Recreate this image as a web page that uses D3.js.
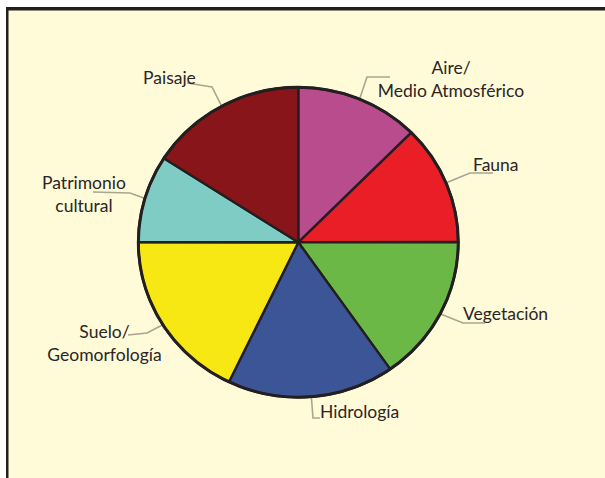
<!DOCTYPE html>
<html>
<head>
<meta charset="utf-8">
<script src="https://cdn.jsdelivr.net/npm/d3@7"></script>
<style>
  body { margin: 0; background: #fff; }
  svg { display: block; }
  .label { font-family: Lato, "Liberation Sans", sans-serif; font-size: 17.5px; font-weight: 400; fill: #2a2526; }
</style>
</head>
<body>
<div id="chart"></div>
<script>
// Categories, clockwise from 12 o'clock
const categories = [
    "Aire/ Medio Atmosférico",
    "Fauna",
    "Vegetación",
    "Hidrología",
    "Suelo/ Geomorfología",
    "Patrimonio cultural",
    "Paisaje"
];

// Share of each slice (%)
const shares = [12.5, 12.5, 15.3, 16.9, 17.9, 9.1, 15.9];

const colors = ["#b94c8d", "#e91e26", "#6bb846", "#3b5597", "#f7e813", "#7fccc4", "#871519"];

// Label lines (text rows) for each category
const labelLines = [
    ["Aire/", "Medio Atmosférico"],
    ["Fauna"],
    ["Vegetación"],
    ["Hidrología"],
    ["Suelo/", "Geomorfología"],
    ["Patrimonio", "cultural"],
    ["Paisaje"]
];

const width = 605;
const height = 478;
const cx = 298.3, cy = 242.3;
const radius = 155;
const xStretch = 1.032;   // pie is slightly wider than tall in the original

// Label layout: text anchor/position and leader bend/end points
const labelLayout = [
    { x: 451, y: 74, anchor: "middle", lead: [[367, 77], [390, 77]] },
    { x: 473, y: 171, anchor: "start", lead: [[470, 173], [493, 173]] },
    { x: 463, y: 320, anchor: "start", lead: [[463, 323], [485, 323]] },
    { x: 320, y: 418, anchor: "start", lead: [[313, 418], [320, 418]] },
    { x: 104.5, y: 338, anchor: "middle", lead: [[147, 333], [128, 335]] },
    { x: 84, y: 189, anchor: "middle", lead: [[130, 193], [93, 192]] },
    { x: 143, y: 84, anchor: "start", lead: [[212, 87], [187, 83]] }
];

const data = categories.map((c, i) => ({ name: c, value: shares[i], color: colors[i], lines: labelLines[i], layout: labelLayout[i] }));

const svg = d3.select("#chart")
    .append("svg")
    .attr("width", width)
    .attr("height", height);

// Cream panel with dark frame at top and left
svg.append("rect")
    .attr("x", 7).attr("y", 9)
    .attr("width", width - 7).attr("height", height - 9)
    .attr("fill", "#fffad8");
svg.append("rect")
    .attr("x", 6).attr("y", 7)
    .attr("width", width - 6).attr("height", 3.5)
    .attr("fill", "#231f20");
svg.append("rect")
    .attr("x", 6).attr("y", 7)
    .attr("width", 2.5).attr("height", height - 7)
    .attr("fill", "#231f20");

const pie = d3.pie().sort(null).value(d => d.value);
const arcs = pie(data);

const arc = d3.arc().innerRadius(0).outerRadius(radius);

// Leader lines (drawn first, under the pie)
const leader = d3.line().curve(d3.curveLinear);
svg.append("g")
    .selectAll("path")
    .data(arcs)
    .join("path")
    .attr("d", d => {
        const mid = (d.startAngle + d.endAngle) / 2;
        const r = radius + 1;
        const start = [cx + Math.sin(mid) * r * xStretch, cy - Math.cos(mid) * r];
        return leader([start, ...d.data.layout.lead]);
    })
    .attr("fill", "none")
    .attr("stroke", "#a8a690")
    .attr("stroke-width", 1.6);

const pieG = svg.append("g")
    .attr("transform", `translate(${cx},${cy}) scale(${xStretch},1)`);

pieG.selectAll("path")
    .data(arcs)
    .join("path")
    .attr("d", arc)
    .attr("fill", d => d.data.color)
    .attr("stroke", "#231f20")
    .attr("stroke-width", 2.4)
    .attr("stroke-linejoin", "round")
    .style("vector-effect", "non-scaling-stroke");

// Outer rim
pieG.append("circle")
    .attr("r", radius)
    .attr("fill", "none")
    .attr("stroke", "#231f20")
    .attr("stroke-width", 3)
    .style("vector-effect", "non-scaling-stroke");

// Labels
const labels = svg.append("g")
    .selectAll("text")
    .data(arcs)
    .join("text")
    .attr("class", "label")
    .attr("text-anchor", d => d.data.layout.anchor);

labels.selectAll("tspan")
    .data(d => d.data.lines.map((t, i) => ({ t, i, lay: d.data.layout })))
    .join("tspan")
    .attr("x", d => d.lay.x)
    .attr("y", d => d.lay.y + d.i * 23)
    .text(d => d.t);
</script>
</body>
</html>
